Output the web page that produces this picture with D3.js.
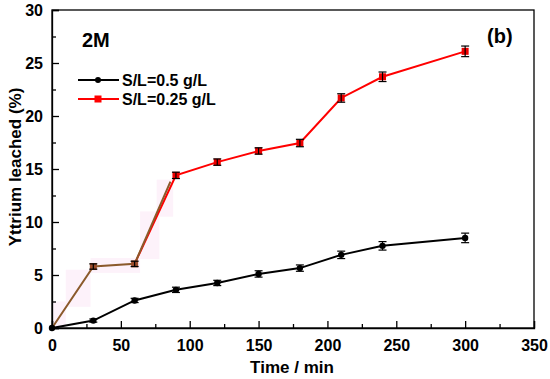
<!DOCTYPE html>
<html>
<head>
<meta charset="utf-8">
<script src="https://cdn.jsdelivr.net/npm/d3@7"></script>
<style>
  body { margin: 0; background: #fff; }
  text { font-family: "Liberation Sans", Arial, sans-serif; font-weight: bold; }
</style>
</head>
<body>
<div id="chart"></div>
<script>
const width = 550
const height = 379
const margin = {top: 10, right: 16, bottom: 51, left: 52}

const times = [0, 30, 60, 90, 120, 150, 180, 210, 240, 300]
const leachedHalf = [0, 0.7, 2.6, 3.6, 4.25, 5.1, 5.65, 6.9, 7.75, 8.5]
const errHalf = [0, 0.15, 0.2, 0.25, 0.25, 0.3, 0.3, 0.35, 0.4, 0.45]
const leachedQuarter = [0, 5.8, 6.05, 14.4, 15.65, 16.7, 17.45, 21.7, 23.7, 26.1]
const errQuarter = [0, 0.25, 0.25, 0.3, 0.3, 0.3, 0.35, 0.4, 0.45, 0.5]
const xTicks = [0, 50, 100, 150, 200, 250, 300, 350]
const yTicks = [0, 5, 10, 15, 20, 25, 30]

const svg = d3.select('#chart')
    .append('svg')
    .attr('width', width)
    .attr('height', height)

const x = d3.scaleLinear().domain([0, 350]).range([margin.left, width - margin.right])
const y = d3.scaleLinear().domain([0, 30]).range([height - margin.bottom, margin.top])

// pale pink blocks behind early brown segment (scan artefact)
const pinkZones = [[0, 0, 10, 2.5], [10, 2, 28, 5.5], [28, 5.2, 64, 6.6], [64, 6.5, 78, 11], [76, 10.5, 88, 14]]
svg.append('g').selectAll('rect')
    .data(pinkZones)
    .join('rect')
    .attr('x', d => x(d[0]))
    .attr('y', d => y(d[3]))
    .attr('width', d => x(d[2]) - x(d[0]))
    .attr('height', d => y(d[1]) - y(d[3]))
    .attr('fill', '#fdf2fa')

// frame
svg.append('rect')
    .attr('x', x(0)).attr('y', y(30))
    .attr('width', x(350) - x(0)).attr('height', y(0) - y(30))
    .attr('fill', 'none').attr('stroke', '#000').attr('stroke-width', 1.3)

// inward ticks
svg.append('g')
    .attr('transform', `translate(0,${y(0)})`)
    .call(d3.axisBottom(x).tickValues(xTicks).tickSize(-7).tickPadding(12))
svg.append('g')
    .attr('transform', `translate(0,${y(0)})`)
    .call(d3.axisBottom(x).tickValues(d3.range(25, 350, 50)).tickSize(-4).tickFormat(''))
    .call(g => g.select('.domain').remove())

svg.append('g')
    .attr('transform', `translate(${x(0)},0)`)
    .call(d3.axisLeft(y).tickValues(yTicks).tickSize(-7).tickPadding(9))
svg.append('g')
    .attr('transform', `translate(${x(0)},0)`)
    .call(d3.axisLeft(y).tickValues(d3.range(2.5, 30, 5)).tickSize(-4).tickFormat(''))
    .call(g => g.select('.domain').remove())

svg.selectAll('.tick line').attr('stroke-width', 1.3)
svg.selectAll('.domain').attr('stroke-width', 1.3)
svg.selectAll('.tick text')
    .attr('font-size', 16)
    .attr('font-weight', 'bold')
    .attr('font-family', '"Liberation Sans", Arial, sans-serif')
    .attr('fill', '#000')

svg.append('text')
    .attr('x', 292)
    .attr('y', 373)
    .attr('text-anchor', 'middle')
    .attr('font-size', 17)
    .text('Time / min')

svg.append('text')
    .attr('transform', 'translate(21,167) rotate(-90)')
    .attr('text-anchor', 'middle')
    .attr('font-size', 17)
    .text('Yttrium leached (%)')

const line = d3.line().x(d => x(d[0])).y(d => y(d[1]))

const half = times.map((t, i) => [t, leachedHalf[i], errHalf[i]])
const quarter = times.map((t, i) => [t, leachedQuarter[i], errQuarter[i]])

svg.append('path')
    .datum(half)
    .attr('d', line)
    .attr('fill', 'none').attr('stroke', '#000').attr('stroke-width', 2)

svg.append('path')
    .datum(quarter.slice(2))
    .attr('d', line)
    .attr('fill', 'none').attr('stroke', '#f00').attr('stroke-width', 2)
svg.append('path')
    .datum(quarter.slice(0, 3).concat([[86, 13.8]]))
    .attr('d', line)
    .attr('fill', 'none').attr('stroke', '#8b5a2b').attr('stroke-width', 2)

function errorBars (data) {
    const g = svg.append('g').attr('stroke', '#000').attr('stroke-width', 1.2)
    data.filter(d => d[2] > 0).forEach(d => {
        const cx = x(d[0])
        g.append('line').attr('x1', cx).attr('x2', cx).attr('y1', y(d[1] - d[2])).attr('y2', y(d[1] + d[2]))
        g.append('line').attr('x1', cx - 4).attr('x2', cx + 4).attr('y1', y(d[1] - d[2])).attr('y2', y(d[1] - d[2]))
        g.append('line').attr('x1', cx - 4).attr('x2', cx + 4).attr('y1', y(d[1] + d[2])).attr('y2', y(d[1] + d[2]))
    })
}

svg.append('g').selectAll('circle')
    .data(half)
    .join('circle')
    .attr('cx', d => x(d[0])).attr('cy', d => y(d[1])).attr('r', 3.2)
    .attr('fill', '#000')
errorBars(half)

svg.append('g').selectAll('rect')
    .data(quarter)
    .join('rect')
    .attr('x', d => x(d[0]) - 3.5).attr('y', d => y(d[1]) - 3.5)
    .attr('width', 7).attr('height', 7)
    .attr('fill', (d, i) => i === 0 ? 'none' : i < 3 ? '#9b4a2a' : '#e00')
errorBars(quarter)

// labels
svg.append('text').attr('x', 82).attr('y', 47).attr('font-size', 20).text('2M')
svg.append('text').attr('x', 487).attr('y', 43).attr('font-size', 20)
    .attr('font-family', '"Open Sans", sans-serif').text('(b)')

// legend
const legend = [
    {label: 'S/L=0.5 g/L', color: '#000', shape: 'circle', y: 80},
    {label: 'S/L=0.25 g/L', color: '#f00', shape: 'square', y: 99}
]
legend.forEach(l => {
    svg.append('line').attr('x1', 78).attr('x2', 119).attr('y1', l.y).attr('y2', l.y)
        .attr('stroke', l.color).attr('stroke-width', 2)
    if (l.shape === 'circle') {
        svg.append('circle').attr('cx', 98).attr('cy', l.y).attr('r', 3).attr('fill', l.color)
    } else {
        svg.append('rect').attr('x', 94.5).attr('y', l.y - 3.5).attr('width', 7).attr('height', 7).attr('fill', l.color)
    }
    svg.append('text').attr('x', 122).attr('y', l.y + 5.5).attr('font-size', 16).text(l.label)
})
</script>
</body>
</html>
